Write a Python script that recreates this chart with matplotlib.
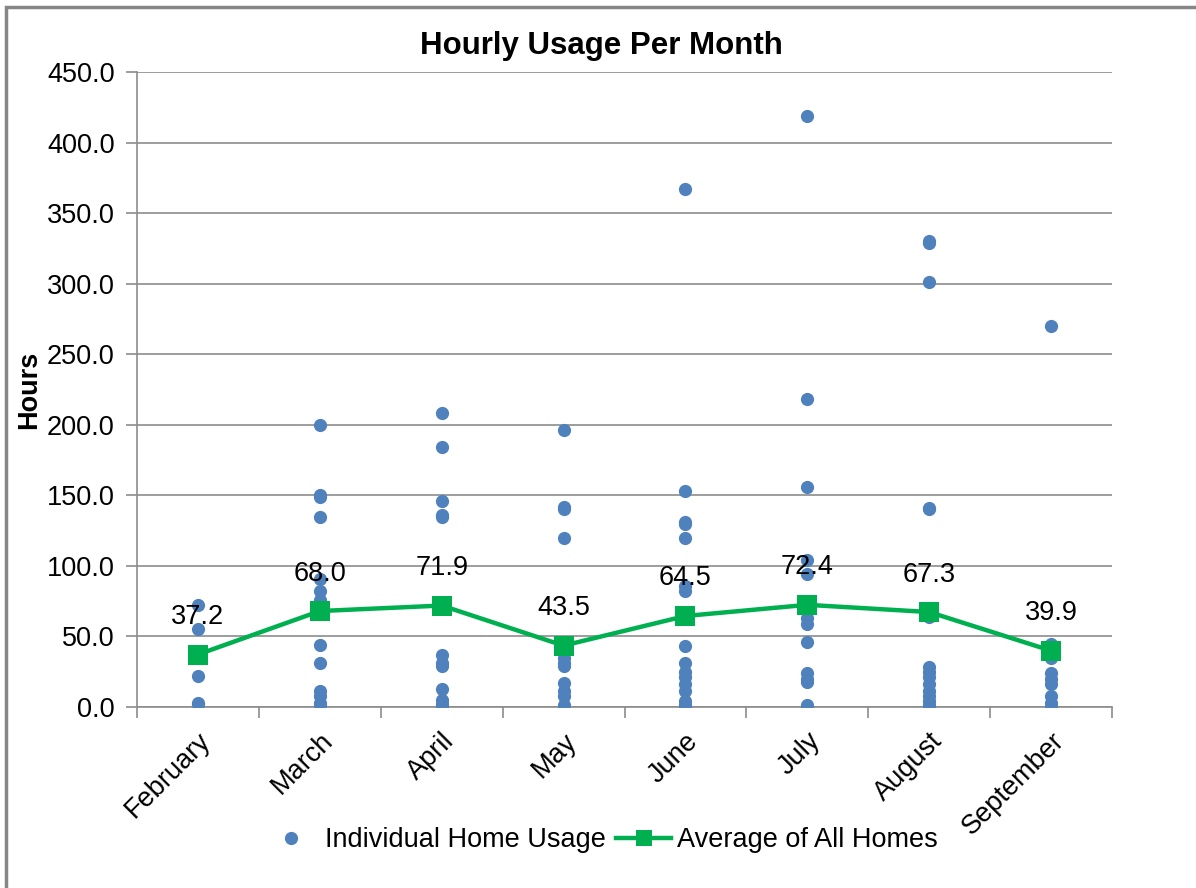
import matplotlib.pyplot as plt
from matplotlib.patches import Rectangle
from matplotlib.lines import Line2D

plt.rcParams['font.family'] = ['Liberation Sans', 'DejaVu Sans']

months = ["February", "March", "April", "May", "June", "July", "August", "September"]

# Individual home usage (hours)
feb = [72, 55, 37, 22, 2.5, 2]
mar = [200, 150, 149, 135, 91, 82, 76, 67, 44, 31, 11, 8, 3, 1.5]
apr = [208, 184, 146, 136, 135, 37, 31, 29, 13, 5, 2, 0.5]
may = [196, 142, 140, 120, 35, 31, 29, 17, 11, 8, 1.5]
jun = [367, 153, 131, 130, 120, 86, 82, 43, 31, 25, 21, 16, 11, 4, 1.5, 0]
jul = [419, 218, 156, 104, 94, 63, 59, 46, 24, 20, 18, 1.5, 0]
aug = [330, 329, 301, 141, 140, 64, 28, 25, 21, 16, 11, 8, 4, 1.5, 0]
sep = [270, 45, 43, 35, 24, 20, 16, 8, 3, 0]
usage = [feb, mar, apr, may, jun, jul, aug, sep]

average = [37.2, 68.0, 71.9, 43.5, 64.5, 72.4, 67.3, 39.9]

blue = "#4F81BD"
green = "#00B050"
grid_gray = "#8C8C8C"
fs = 19.5

fig = plt.figure(figsize=(11.96, 8.88), dpi=100)
ax = fig.add_axes([137 / 1196, 1 - 707 / 888, (1112 - 137) / 1196, (707 - 72) / 888])

# outer chart border
fig.patches.append(Rectangle((6 / 1196, -0.05), 1.1, 1 - 7 / 888 + 0.05, transform=fig.transFigure,
                             fill=False, edgecolor="#868686", linewidth=2.5))

for i, vals in enumerate(usage):
    ax.plot([i] * len(vals), vals, linestyle="none", marker="o", markersize=9.5,
            color=blue, markeredgewidth=0, zorder=3)

ax.plot(range(len(months)), average, color=green, linewidth=3.2, marker="s",
        markersize=14, markeredgewidth=0, zorder=4)
for i, v in enumerate(average):
    ax.annotate(f"{v:.1f}", (i, v), xytext=(0, 27), textcoords="offset points",
                ha="center", va="center", fontsize=fs, zorder=5)

ax.set_xlim(-0.5, len(months) - 0.5)
ax.set_ylim(0, 450)
ax.set_yticks(range(0, 451, 50))
ax.set_yticklabels([f"{v:.1f}" for v in range(0, 451, 50)], fontsize=fs)
ax.yaxis.grid(True, color=grid_gray, linewidth=1.2)
ax.set_axisbelow(True)

ax.set_xticks([i - 0.5 for i in range(len(months) + 1)])
ax.set_xticklabels([])
ax.set_xticks(range(len(months)), minor=True)
ax.set_xticklabels(months, minor=True, rotation=45, ha="right", va="top",
                   rotation_mode="anchor", fontsize=fs)
ax.tick_params(axis="x", which="minor", length=0, pad=15)
ax.tick_params(axis="x", which="major", length=8, color=grid_gray, width=1.2)
ax.tick_params(axis="y", length=8, color=grid_gray, width=1.2, pad=8)

for side in ["top", "right"]:
    ax.spines[side].set_visible(False)
for side in ["left", "bottom"]:
    ax.spines[side].set_color(grid_gray)
    ax.spines[side].set_linewidth(1.2)

fig.text(601 / 1196, 1 - 46 / 888, "Hourly Usage Per Month", fontsize=22.5,
         fontweight="bold", ha="center", va="center")
ax.set_ylabel("Hours", fontsize=fs, fontweight="bold", labelpad=3.5)

handles = [
    Line2D([], [], linestyle="none", marker="o", markersize=9.5, color=blue, markeredgewidth=0),
    Line2D([], [], color=green, linewidth=3.2, marker="s", markersize=12, markeredgewidth=0),
]
fig.legend(handles, ["Individual Home Usage", "Average of All Homes"], loc="center",
           bbox_to_anchor=(601 / 1196, 1 - 840 / 888), ncol=2, frameon=False,
           fontsize=fs, handlelength=2.0, columnspacing=0.4, handletextpad=0.25)

fig.savefig("out.png", dpi=100)
